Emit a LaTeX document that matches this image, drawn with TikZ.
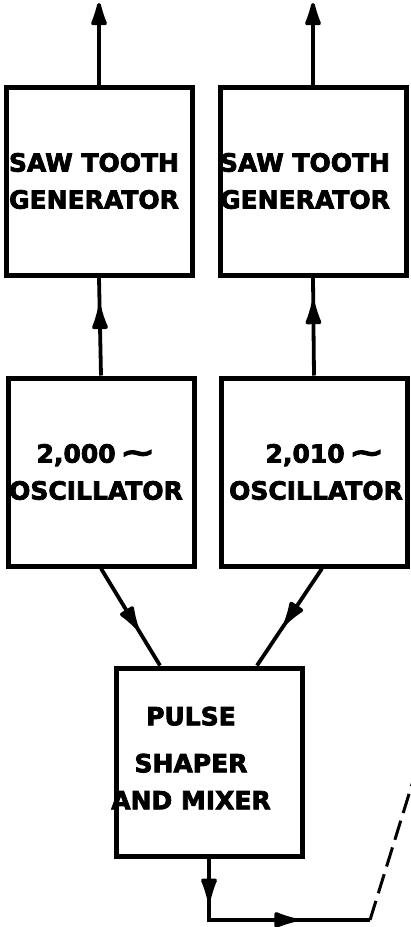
\documentclass[tikz,border=0pt]{standalone}
\usepackage{fontspec}
\newfontfamily\blockfont[BoldFeatures={FakeBold=3}]{DejaVu Sans}
\usetikzlibrary{arrows.meta,decorations.markings}

\begin{document}
\begin{tikzpicture}[x=1pt, y=-1pt, line width=3.8pt, line join=miter,
  >={Latex[length=30pt,width=18pt,round]},
  blk/.style={draw, line width=5pt, minimum width=186pt, minimum height=188pt, inner sep=0pt},
  lbl/.style={font=\blockfont\bfseries\fontsize{25}{37}\selectfont, align=center, inner sep=0pt},
  midarrow/.style={postaction={decorate}, decoration={markings, mark=at position #1 with {\arrow{>}}}},
  wave/.style={dash pattern=on 20pt off 8pt, line width=3pt}]
  % Settings
  \def\wig{\scalebox{1.7}[1.2]{∼}} % large tilde
  \useasboundingbox (0,0) rectangle (410,927);

  % Saw tooth generators
  \node[blk] (saw1) at (99,181) {};
  \node[blk] (saw2) at (313,181) {};
  \node[lbl] (sawtxt1) at (94,181) {SAW TOOTH\\GENERATOR};
  \node[lbl] (sawtxt2) at (305,181) {SAW TOOTH\\GENERATOR};

  % Oscillators
  \node[blk] (osc1) at (101,472) {};
  \node[blk] (osc2) at (314,472) {};
  \node[lbl] (osctxt1) at (96,472) {2,000\,\wig\\OSCILLATOR};
  \node[lbl] (osctxt2) at (316,472) {\hspace{18pt}2,010\,\wig\\OSCILLATOR};

  % Pulse shaper and mixer
  \node[blk] (mix) at (209,762) {};
  \node[lbl] (mixtxt) at (191,758) {PULSE\\[10pt]SHAPER\\AND MIXER};

  % Outputs at the top
  \coordinate (out1) at (saw1.north |- 0,3);
  \coordinate (out2) at (saw2.north |- 0,3);
  \draw[->] (saw1.north) -- (out1);
  \draw[->] (saw2.north) -- (out2);

  % Oscillator to saw tooth
  \draw[midarrow=0.7] (osc1.north) -- (saw1.south);
  \draw[midarrow=0.75] (osc2.north) -- (saw2.south);

  % Oscillators into the mixer
  \draw[midarrow=0.62] (osc1.south) -- ([xshift=-49pt]mix.north);
  \draw[midarrow=0.57] ([xshift=8pt]osc2.south) -- ([xshift=48pt]mix.north);

  % Mixer output
  \coordinate (bend) at (mix.south |- 0,920);
  \coordinate (hend) at (370,920);
  \coordinate (far) at (414,778);
  \draw[postaction={decorate}, decoration={markings,
      mark=at position 0.19 with {\arrow{>}},
      mark=at position 0.67 with {\arrow{>}}}]
    (mix.south) -- (bend) -- (hend);
  \draw[wave] (hend) -- (far);

\end{tikzpicture}
\end{document}
